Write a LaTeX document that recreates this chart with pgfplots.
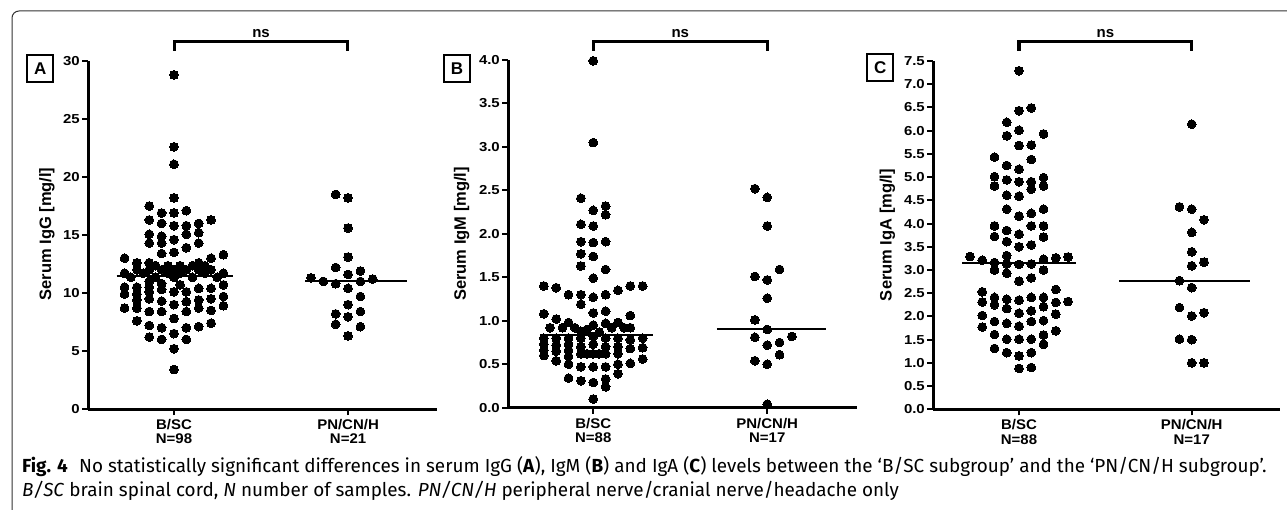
\documentclass[border=0pt]{standalone}
\usepackage{fontspec}
\setmainfont{Liberation Sans}
\newfontfamily\capfont{Fira Sans}
\newfontfamily\tickfont[FakeStretch=1.15]{Liberation Sans}
\newfontfamily\catfont[FakeStretch=1.07]{Liberation Sans}
\usepackage{pgfplots}
\pgfplotsset{compat=1.18}
\pgfplotsset{
  swarm/.style={
    scale only axis, clip=false,
    axis lines=left,
    axis line style={-, line width=3pt},
    ymin=0,
    xtick={0,1},
    x tick label style={align=center, font=\catfont\bfseries\fontsize{14}{14.5}\selectfont, inner sep=2pt, yshift=-2pt},
    y tick label style={font=\tickfont\bfseries\fontsize{13}{13}\selectfont, inner sep=2pt},
    /pgf/number format/assume math mode=true,
    tick align=outside,
    major tick length=6pt,
    tick style={black, line width=2pt},
    minor tick num=0,
  },
  dots/.style={only marks, mark=*, mark size=4.4pt, mark options={fill=black, draw=black, line width=0pt}},
  med/.style={no marks, line width=2pt, black},
}
\begin{document}
\begin{tikzpicture}[x=1pt,y=1pt]
\path[use as bounding box] (0,0) rectangle (1287,509);
\draw[line width=1pt, black!80, rounded corners=7pt] (12,-5) -- (12,498) -- (1295,498);

% ---------------- Panel A ----------------
\begin{axis}[swarm, at={(88pt,100pt)}, anchor=south west,
  width=349pt, height=348pt, xmin=-0.494, xmax=1.511, ymax=30,
  ytick={0,5,...,30},
  xticklabels={{B/SC\\N=98},{PN/CN/H\\N=21}}]
\addplot[dots] coordinates {
(0,28.8)(0,22.6)(0,21.1)(0,18.2)(0,16.9)(0,15.8)(0,14.6)(0,13.5)(0,10.1)(0,9.0)(0,7.8)(0,6.5)(0,5.2)(0,3.4)
(-0.071,16.9)(-0.071,16.0)(-0.071,14.9)(-0.071,14.3)(-0.071,13.4)(-0.071,10.8)(-0.071,10.3)(-0.071,9.3)(-0.071,8.4)(-0.071,7.0)(-0.071,6.0)
(0.071,17.1)(0.071,15.8)(0.071,15.06)(0.071,13.9)(0.071,10.1)(0.071,9.25)(0.071,8.4)(0.071,7.0)(0.071,6.0)
(-0.142,17.5)(-0.142,16.3)(-0.142,15.06)(-0.142,14.3)(-0.142,12.6)(-0.142,11.0)(-0.142,10.5)(-0.142,10.1)(-0.142,9.5)(-0.142,8.4)(-0.142,7.2)(-0.142,6.2)
(0.142,16.0)(0.142,15.2)(0.142,14.3)(0.142,12.6)(0.142,10.4)(0.142,9.4)(0.142,8.7)(0.142,7.1)
(-0.213,12.6)(-0.213,10.5)(-0.213,9.9)(-0.213,9.4)(-0.213,8.7)(-0.213,7.6)
(0.213,16.3)(0.213,13.0)(0.213,10.4)(0.213,9.5)(0.213,8.5)(0.213,7.4)
(-0.284,13.0)(-0.284,10.5)(-0.284,9.9)(-0.284,8.7)
(0.284,13.3)(0.284,10.7)(0.284,9.7)(0.284,8.9)
(0.035,10.7)
(-0.106,12.35)(-0.035,12.35)(0.035,12.35)(0.106,12.35)(0.177,12.35)
(-0.213,12.0)(-0.142,12.0)(-0.071,12.0)(0,12.0)(0.071,12.0)(0.142,12.0)(0.213,12.0)
(-0.284,11.7)(-0.177,11.7)(-0.035,11.7)(0.035,11.7)(0.177,11.7)(0.284,11.7)
(-0.248,11.35)(-0.106,11.35)(0,11.35)(0.106,11.35)(0.248,11.35)
};
\addplot[dots] coordinates {
(0.929,18.5)(1,18.2)(1,15.6)(1,13.1)(0.929,12.2)(1,11.6)(1.071,11.9)(0.787,11.3)(0.858,11.0)(0.929,10.8)(1,10.4)(1.071,11.0)(1.142,11.2)(1.071,9.7)(1,9.0)(0.929,8.2)(1,7.95)(1.071,8.4)(0.929,7.3)(1.071,7.1)(1,6.3)
};
\addplot[med] coordinates {(-0.33,11.45)(0.34,11.45)};
\addplot[med] coordinates {(0.755,11.0)(1.34,11.0)};
\end{axis}

% ---------------- Panel B ----------------
\begin{axis}[swarm, at={(508pt,101.3pt)}, anchor=south west,
  width=349pt, height=347.7pt, xmin=-0.49, xmax=1.516, ymax=4,
  ytick={0,0.5,...,4},
  yticklabel style={/pgf/number format/.cd, fixed, fixed zerofill, precision=1},
  xticklabels={{B/SC\\N=88},{PN/CN/H\\N=17}}]
\addplot[dots] coordinates {
(0,3.99)(0,3.05)(0,2.27)(0,2.09)(0,1.90)(0,1.74)(0,1.49)(0,1.27)(0,1.09)(0,0.95)(0,0.82)(0,0.73)(0,0.62)(0,0.47)(0,0.29)(0,0.10)
(-0.071,2.41)(-0.071,2.11)(-0.071,1.91)(-0.071,1.77)(-0.071,1.63)(-0.071,1.30)(-0.071,1.19)(-0.071,0.88)(-0.071,0.80)(-0.071,0.70)(-0.071,0.62)(-0.071,0.47)(-0.071,0.31)
(0.071,2.32)(0.071,2.22)(0.071,1.91)(0.071,1.59)(0.071,1.30)(0.071,1.11)(0.071,0.97)(0.071,0.80)(0.071,0.70)(0.071,0.62)(0.071,0.47)(0.071,0.33)(0.071,0.24)
(-0.142,1.30)(-0.142,0.98)(-0.142,0.80)(-0.142,0.73)(-0.142,0.66)(-0.142,0.59)(-0.142,0.50)(-0.142,0.34)
(0.142,1.35)(0.142,0.98)(0.142,0.80)(0.142,0.70)(0.142,0.62)(0.142,0.50)(0.142,0.39)
(-0.213,1.38)(-0.213,1.02)(-0.213,0.80)(-0.213,0.72)(-0.213,0.65)(-0.213,0.54)
(0.213,1.40)(0.213,1.06)(0.213,0.92)(0.213,0.78)(0.213,0.68)(0.213,0.51)
(-0.284,1.40)(-0.284,1.08)(-0.284,0.80)(-0.284,0.73)(-0.284,0.66)(-0.284,0.60)
(0.284,1.40)(0.284,0.80)(0.284,0.69)(0.284,0.56)
(-0.248,0.92)(-0.177,0.92)(-0.106,0.92)(-0.035,0.90)(-0.035,0.62)(0.035,0.87)(0.035,0.62)(0.106,0.92)(0.177,0.92)
};
\addplot[dots] coordinates {
(0.929,2.52)(1,2.42)(1,2.09)(0.929,1.51)(1,1.47)(1.071,1.59)(1,1.26)(0.929,1.01)(1,0.90)(0.929,0.81)(1,0.72)(1.071,0.75)(1.142,0.82)(1.071,0.61)(0.929,0.54)(1,0.50)(1,0.04)
};
\addplot[med] coordinates {(-0.305,0.84)(0.345,0.84)};
\addplot[med] coordinates {(0.71,0.91)(1.34,0.91)};
\end{axis}

% ---------------- Panel C ----------------
\begin{axis}[swarm, at={(933pt,99.7pt)}, anchor=south west,
  width=347pt, height=348.3pt, xmin=-0.498, xmax=1.511, ymax=7.5,
  ytick={0,0.5,...,7.5},
  yticklabel style={/pgf/number format/.cd, fixed, fixed zerofill, precision=1},
  xticklabels={{B/SC\\N=88},{PN/CN/H\\N=17}}]
\addplot[dots] coordinates {
(0,7.29)(0,6.43)(0,6.01)(0,5.68)(0,5.17)(0,4.90)(0,4.59)(0,4.16)(0,3.77)(0,3.50)(0,3.12)(0,2.76)(0,2.35)(0,2.07)(0,1.79)(0,1.51)(0,1.15)(0,0.88)
(0.071,6.49)(0.071,5.69)(0.071,5.38)(0.071,4.90)(0.071,4.74)(0.071,4.22)(0.071,3.95)(0.071,3.54)(0.071,3.13)(0.071,2.83)(0.071,2.41)(0.071,2.12)(0.071,1.89)(0.071,1.51)(0.071,1.22)(0.071,0.90)
(-0.071,6.18)(-0.071,5.89)(-0.071,5.25)(-0.071,4.94)(-0.071,4.61)(-0.071,4.31)(-0.071,3.85)(-0.071,3.61)(-0.071,3.31)(-0.071,3.13)(-0.071,2.93)(-0.071,2.37)(-0.071,2.17)(-0.071,1.85)(-0.071,1.51)(-0.071,1.22)
(0.142,5.93)(0.142,4.99)(0.142,4.81)(0.142,4.31)(0.142,3.95)(0.142,3.71)(0.142,3.23)(0.142,3.00)(0.142,2.41)(0.142,2.21)(0.142,1.91)(0.142,1.60)(0.142,1.40)
(-0.142,5.43)(-0.142,5.01)(-0.142,4.81)(-0.142,3.95)(-0.142,3.72)(-0.142,3.16)(-0.142,3.00)(-0.142,2.41)(-0.142,2.25)(-0.142,1.89)(-0.142,1.61)(-0.142,1.31)
(-0.213,3.21)(-0.213,2.53)(-0.213,2.31)(-0.213,2.02)(-0.213,1.77)
(0.213,3.26)(0.213,2.58)(0.213,2.30)(0.213,2.05)(0.213,1.69)
(-0.284,3.29)
(0.284,3.28)(0.284,2.32)
};
\addplot[dots] coordinates {
(1,6.14)(0.929,4.36)(1,4.31)(1.071,4.08)(1,3.81)(1,3.39)(1,3.09)(1.071,3.17)(0.929,2.77)(1,2.62)(0.929,2.19)(1,2.01)(1.071,2.08)(0.929,1.51)(1,1.50)(1,1.00)(1.071,1.00)
};
\addplot[med] coordinates {(-0.33,3.14)(0.33,3.14)};
\addplot[med] coordinates {(0.58,2.77)(1.335,2.77)};
\end{axis}

% brackets and ns
\foreach \a/\b in {174.3/347.7, 593.3/767.3, 1019/1191.7}{
  \draw[line width=3.5pt, line cap=butt] (\a,458.3) -- (\a,467.3) -- (\b,467.3) -- (\b,458.3);
  \node[font=\bfseries\fontsize{15}{16}\selectfont, anchor=base] at ({(\a+\b)/2},471) {ns};
}
% panel letters
\node[draw, line width=2pt, minimum width=26pt, minimum height=27pt, inner sep=0pt, font=\bfseries\fontsize{17}{18}\selectfont] at (40.3,440.7) {A};
\node[draw, line width=2pt, minimum width=26pt, minimum height=27pt, inner sep=0pt, font=\bfseries\fontsize{17}{18}\selectfont] at (457,440.7) {B};
\node[draw, line width=2pt, minimum width=26pt, minimum height=27pt, inner sep=0pt, font=\bfseries\fontsize{17}{18}\selectfont] at (880.3,441) {C};
% y labels
\node[rotate=90, font=\bfseries\fontsize{16.5}{18}\selectfont] at (47,275) {Serum IgG [mg/l]};
\node[rotate=90, font=\bfseries\fontsize{16.5}{18}\selectfont] at (461.7,275) {Serum IgM [mg/l]};
\node[rotate=90, font=\bfseries\fontsize{16.5}{18}\selectfont] at (887.5,274) {Serum IgA [mg/l]};
% caption
\node[anchor=base west, inner sep=0pt, font=\capfont\fontsize{18.9}{21}\selectfont] at (22,37) {\textbf{Fig. 4}\hspace{0.6em}No statistically significant differences in serum IgG (\textbf{A}), IgM (\textbf{B}) and IgA (\textbf{C}) levels between the ‘B/SC subgroup’ and the ‘PN/CN/H subgroup’.};
\node[anchor=base west, inner sep=0pt, font=\capfont\fontsize{18.9}{21}\selectfont] at (22,13) {\textit{B/SC} brain spinal cord, \textit{N} number of samples. \textit{PN/CN/H} peripheral nerve/cranial nerve/headache only};
\end{tikzpicture}
\end{document}
